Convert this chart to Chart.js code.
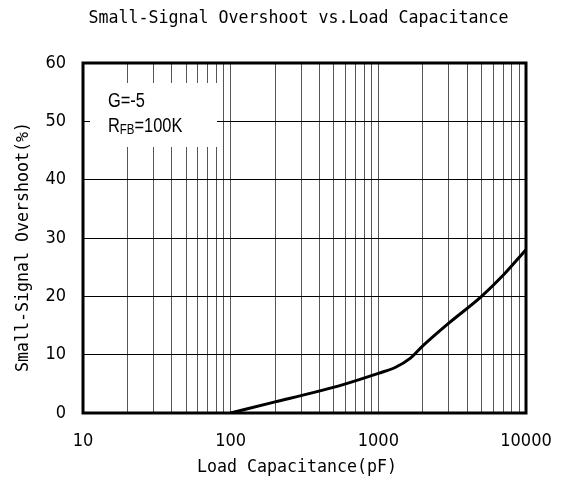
<!DOCTYPE html>
<html><head><meta charset="utf-8">
<script src="https://cdn.jsdelivr.net/npm/chart.js@4.4.1/dist/chart.umd.min.js"></script>
<style>html,body{margin:0;padding:0;background:#fff;}#wrap{width:562px;height:483px;}</style>
</head><body><div id="wrap"><canvas id="c" width="562" height="483"></canvas></div>
<script>
const titleText = 'Small-Signal Overshoot vs.Load Capacitance';
const xTitleText = 'Load Capacitance(pF)';
const yTitleText = 'Small-Signal Overshoot(%)';
const capacitancePF = [100, 200, 350, 600, 1000, 1300, 1650, 2000, 3000, 5000, 7000, 10000];
const overshootPct  = [0, 1.9, 3.4, 5.0, 6.8, 7.8, 9.4, 11.5, 15.4, 20.0, 23.6, 28.0];
const xTickLabels = [10, 100, 1000, 10000];
const xGridValues = [10,20,30,40,50,60,70,80,90,100,200,300,400,500,600,700,800,900,1000,2000,3000,4000,5000,6000,7000,8000,9000,10000];
const yTickValues = [0, 10, 20, 30, 40, 50, 60];
const noteLine1 = 'G=-5';
const noteLine2 = ['R', 'FB', '=100K'];

const MONO = '"DejaVu Sans Mono", "Liberation Mono", monospace';
const NARROW = '"Liberation Sans Narrow", "DejaVu Sans Condensed", "Liberation Sans", Arial, sans-serif';
const SANS = '"Liberation Sans", Arial, sans-serif';

function monoText(ctx, text, cx, cy, rot) {
  ctx.save();
  ctx.translate(cx, cy);
  if (rot) ctx.rotate(rot);
  ctx.scale(0.923, 1);
  ctx.font = '18px ' + MONO;
  ctx.textAlign = 'center';
  ctx.textBaseline = 'middle';
  ctx.fillStyle = '#000';
  ctx.fillText(text, 0, 0);
  ctx.restore();
}

const decor = {
  id: 'decor',
  beforeDatasetsDraw(chart) {
    const ctx = chart.ctx, a = chart.chartArea;
    ctx.save();
    ctx.fillStyle = '#fff';
    ctx.fillRect(a.left + 7, a.top + 20, 127, 64);
    ctx.fillStyle = '#000';
    ctx.textBaseline = 'alphabetic';
    ctx.textAlign = 'left';
    ctx.translate(a.left + 25, 0);
    ctx.scale(0.82, 1);
    ctx.font = '20px ' + SANS;
    ctx.fillText(noteLine1, 0, a.top + 44);
    ctx.fillText(noteLine2[0], 0, a.top + 69);
    let w = ctx.measureText(noteLine2[0]).width;
    ctx.font = '14px ' + SANS;
    ctx.fillText(noteLine2[1], w, a.top + 71);
    w += ctx.measureText(noteLine2[1]).width;
    ctx.font = '20px ' + SANS;
    ctx.fillText(noteLine2[2], w, a.top + 69);
    ctx.restore();
  },
  afterDatasetsDraw(chart) {
    const ctx = chart.ctx, a = chart.chartArea;
    ctx.save();
    ctx.strokeStyle = '#000';
    ctx.lineWidth = 3;
    ctx.strokeRect(a.left, a.top, a.right - a.left, a.bottom - a.top);
    ctx.restore();
    monoText(ctx, titleText, 298.5, 18, 0);
    monoText(ctx, xTitleText, 297, 467, 0);
    monoText(ctx, yTitleText, 23, 247, -Math.PI / 2);
  }
};

new Chart(document.getElementById('c'), {
  type: 'line',
  data: {
    datasets: [{
      data: capacitancePF.map((x, i) => ({ x: x, y: overshootPct[i] })),
      borderColor: '#000',
      borderWidth: 3,
      pointRadius: 0,
      fill: false,
      cubicInterpolationMode: 'monotone'
    }]
  },
  options: {
    responsive: false,
    devicePixelRatio: 1,
    animation: false,
    layout: { padding: { top: 63, right: 36, left: 0, bottom: 0 } },
    plugins: { legend: { display: false }, title: { display: false }, tooltip: { enabled: false } },
    scales: {
      x: {
        type: 'logarithmic',
        min: 10, max: 10000,
        afterBuildTicks: s => { s.ticks = xGridValues.map(v => ({ value: v })); },
        afterFit: s => { s.height = 70; s.paddingLeft = 0; s.paddingRight = 0; },
        ticks: {
          autoSkip: false, maxRotation: 0, minRotation: 0, padding: 18, color: '#000',
          font: { family: NARROW, size: 18 },
          callback: v => xTickLabels.includes(v) ? String(v) : ''
        },
        grid: { color: '#555', lineWidth: 1, drawTicks: false },
        border: { display: false }
      },
      y: {
        min: 0, max: 60,
        afterBuildTicks: s => { s.ticks = yTickValues.map(v => ({ value: v })); },
        afterFit: s => { s.width = 83; s.paddingTop = 0; s.paddingBottom = 0; },
        ticks: {
          padding: 17, color: '#000',
          font: { family: NARROW, size: 18 }
        },
        grid: { color: '#000', lineWidth: 1, drawTicks: false },
        border: { display: false }
      }
    }
  },
  plugins: [decor]
});
</script>
</body></html>
